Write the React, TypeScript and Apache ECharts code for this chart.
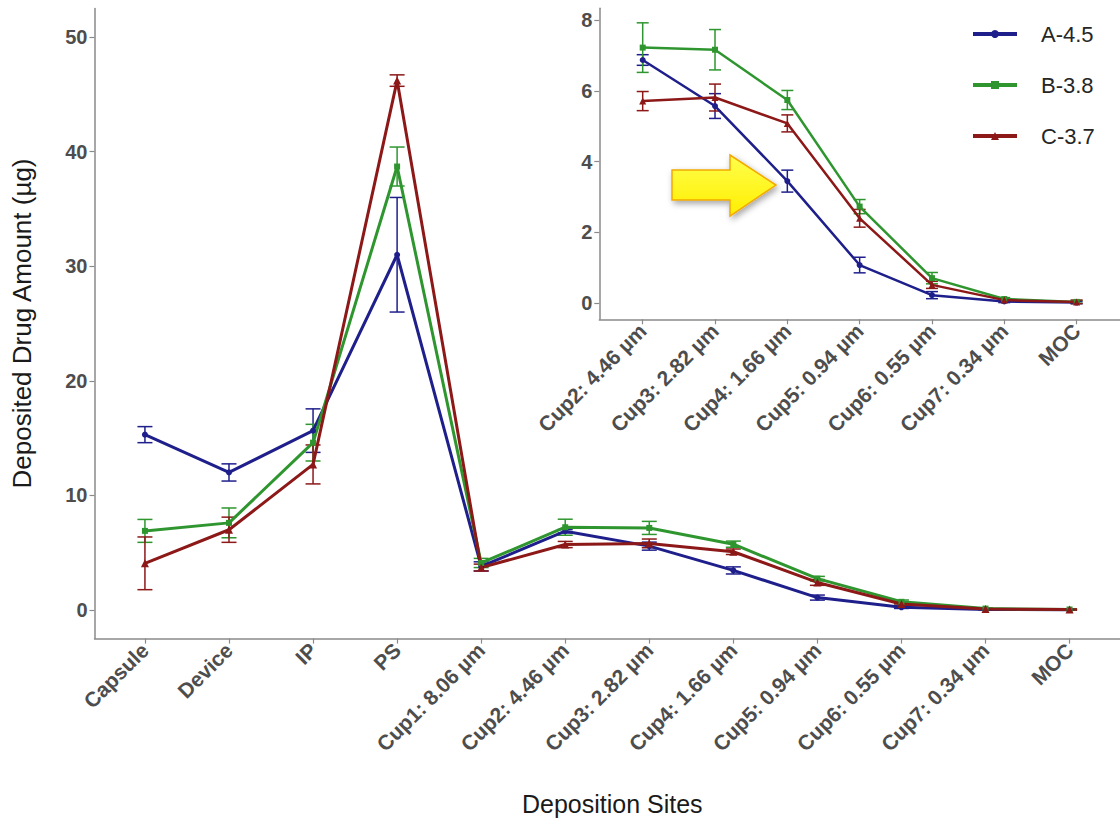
import React, { useEffect, useRef } from "react";
import * as echarts from "echarts";

const categories = [
  "Capsule", "Device", "IP", "PS", "Cup1: 8.06 µm", "Cup2: 4.46 µm",
  "Cup3: 2.82 µm", "Cup4: 1.66 µm", "Cup5: 0.94 µm", "Cup6: 0.55 µm",
  "Cup7: 0.34 µm", "MOC",
];
const seriesNames = ["A-4.5", "B-3.8", "C-3.7"];
const valuesA = [15.3, 12.0, 15.65, 31.0, 3.8, 6.87, 5.57, 3.45, 1.08, 0.23, 0.05, 0.02];
const errorsA = [0.7, 0.75, 1.9, 5.0, 0.4, 0.15, 0.35, 0.31, 0.22, 0.1, 0.03, 0.03];
const valuesB = [6.9, 7.6, 14.6, 38.7, 4.1, 7.22, 7.16, 5.74, 2.73, 0.71, 0.12, 0.04];
const errorsB = [1.0, 1.3, 1.6, 1.7, 0.4, 0.7, 0.57, 0.27, 0.2, 0.16, 0.04, 0.04];
const valuesC = [4.07, 7.0, 12.7, 46.2, 3.7, 5.71, 5.81, 5.08, 2.4, 0.52, 0.09, 0.04];
const errorsC = [2.3, 1.1, 1.7, 0.5, 0.3, 0.27, 0.38, 0.24, 0.25, 0.1, 0.04, 0.05];
const mainYTicks = [0, 10, 20, 30, 40, 50];
const insetYTicks = [0, 2, 4, 6, 8];
const insetStart = 5;

const colors = ["#1f1f8c", "#2f962f", "#8c1818"];
const symbols = ["circle", "rect", "triangle"];

const allValues = [valuesA, valuesB, valuesC];
const allErrors = [errorsA, errorsB, errorsC];

const errRender = (color: string, cap: number, lw: number) => (params: any, api: any) => {
  const x = api.value(0);
  const lo = api.value(1);
  const hi = api.value(2);
  const a = api.coord([x, lo]);
  const b = api.coord([x, hi]);
  const h = cap / 2;
  const style = { stroke: color, lineWidth: lw };
  return {
    type: "group",
    children: [
      { type: "line", shape: { x1: a[0], y1: a[1], x2: b[0], y2: b[1] }, style },
      { type: "line", shape: { x1: a[0] - h, y1: a[1], x2: a[0] + h, y2: a[1] }, style },
      { type: "line", shape: { x1: b[0] - h, y1: b[1], x2: b[0] + h, y2: b[1] }, style },
    ],
  };
};

export default function App() {
  const ref = useRef<HTMLDivElement>(null);
  useEffect(() => {
    if (!ref.current) return;
    const chart = echarts.init(ref.current, null, { renderer: "svg" });
    const labelColor = "#4d4d4d";
    const axisLine = { show: true, onZero: false, lineStyle: { color: "#8a8a8a", width: 1.5 } };
    const axisTickStyle = { lineStyle: { color: "#8a8a8a", width: 1.2 } };

    const mainIdx = categories.map((_, i) => i);
    const insetIdx = categories.slice(insetStart).map((_, i) => i);

    const series: any[] = [];
    for (let s = 0; s < 3; s++) {
      const vals = allValues[s];
      const errs = allErrors[s];
      series.push({
        type: "custom",
        xAxisIndex: 0,
        yAxisIndex: 0,
        renderItem: errRender(colors[s], 15, 1.5),
        encode: { x: 0, y: [1, 2] },
        data: vals.map((v, i) => [i, v - errs[i], v + errs[i]]),
        z: 2,
      });
      series.push({
        type: "custom",
        xAxisIndex: 1,
        yAxisIndex: 1,
        renderItem: errRender(colors[s], 12, 1.5),
        encode: { x: 0, y: [1, 2] },
        data: vals.slice(insetStart).map((v, i) => [i, v - errs[i + insetStart], v + errs[i + insetStart]]),
        z: 2,
      });
    }
    for (let s = 0; s < 3; s++) {
      const vals = allValues[s];
      series.push({
        name: seriesNames[s],
        type: "line",
        xAxisIndex: 0,
        yAxisIndex: 0,
        data: vals.map((v, i) => [i, v]),
        symbol: symbols[s],
        symbolSize: s === 2 ? 8 : 6,
        lineStyle: { color: colors[s], width: 3 },
        itemStyle: { color: colors[s] },
        z: 3,
      });
      series.push({
        name: seriesNames[s],
        type: "line",
        xAxisIndex: 1,
        yAxisIndex: 1,
        data: vals.slice(insetStart).map((v, i) => [i, v]),
        symbol: symbols[s],
        symbolSize: s === 2 ? 7 : 6,
        lineStyle: { color: colors[s], width: 2.5 },
        itemStyle: { color: colors[s] },
        z: 3,
      });
    }

    chart.setOption({
      animation: false,
      backgroundColor: "#ffffff",
      textStyle: { fontFamily: "Liberation Sans, Arial, sans-serif" },
      grid: [
        { left: 94.5, top: 8.4, width: 1029, height: 630.2, containLabel: false },
        { left: 599.3, top: 8.3, width: 528, height: 311, containLabel: false },
      ],
      xAxis: [
        {
          type: "value",
          gridIndex: 0,
          min: -0.6,
          max: 11.6,
          name: "Deposition Sites",
          nameLocation: "middle",
          nameGap: 153,
          nameTextStyle: { fontSize: 25, color: "#1a1a1a", padding: [0, 0, 0, 10] },
          axisLine,
          axisTick: { show: true, length: 5, customValues: mainIdx, ...axisTickStyle },
          axisLabel: {
            customValues: mainIdx,
            formatter: (v: number) => categories[Math.round(v)],
            rotate: 45,
            fontSize: 21,
            fontWeight: "bold",
            color: labelColor,
            margin: 8,
          },
          splitLine: { show: false },
        },
        {
          type: "value",
          gridIndex: 1,
          min: -0.6,
          max: 6.6,
          axisLine,
          axisTick: { show: true, length: 5, customValues: insetIdx, ...axisTickStyle },
          axisLabel: {
            customValues: insetIdx,
            formatter: (v: number) => categories[Math.round(v) + insetStart],
            rotate: 45,
            fontSize: 21,
            fontWeight: "bold",
            color: labelColor,
            margin: 8,
          },
          splitLine: { show: false },
        },
      ],
      yAxis: [
        {
          type: "value",
          gridIndex: 0,
          min: -2.5,
          max: 52.5,
          name: "Deposited Drug Amount (µg)",
          nameLocation: "middle",
          nameGap: 60,
          nameTextStyle: { fontSize: 26, color: "#1a1a1a" },
          axisLine,
          axisTick: { show: true, length: 5, customValues: mainYTicks, ...axisTickStyle },
          axisLabel: {
            customValues: mainYTicks,
            fontSize: 20,
            fontWeight: "bold",
            color: labelColor,
            margin: 7,
          },
          splitLine: { show: false },
        },
        {
          type: "value",
          gridIndex: 1,
          min: -0.452,
          max: 8.33,
          axisLine,
          axisTick: { show: true, length: 5, customValues: insetYTicks, ...axisTickStyle },
          axisLabel: {
            customValues: insetYTicks,
            fontSize: 20,
            fontWeight: "bold",
            color: labelColor,
            margin: 7,
          },
          splitLine: { show: false },
        },
      ],
      legend: {
        data: seriesNames,
        orient: "vertical",
        left: 966,
        top: 17,
        itemWidth: 44,
        itemHeight: 10,
        itemGap: 27,
        lineStyle: { width: 4 },
        textStyle: { fontSize: 22, color: "#262626", lineHeight: 24, padding: [0, 0, 0, 19] },
      },
      graphic: [
        {
          type: "polygon",
          z: 100,
          shape: {
            points: [
              [672, 170], [730, 170], [730, 155], [776, 185],
              [730, 216], [730, 200], [672, 200],
            ],
          },
          style: {
            fill: new echarts.graphic.LinearGradient(0, 0, 0, 1, [
              { offset: 0, color: "#ffff4d" },
              { offset: 1, color: "#ffee00" },
            ]),
            stroke: "#f2a900",
            lineWidth: 1.5,
            shadowColor: "rgba(0,0,0,0.35)",
            shadowBlur: 6,
            shadowOffsetX: 2,
            shadowOffsetY: 3,
          },
        },
      ],
      series,
    });
    return () => chart.dispose();
  }, []);
  return (
    <div
      ref={ref}
      style={{ position: "absolute", left: 0, top: 0, width: 1120, height: 822 }}
    />
  );
}
